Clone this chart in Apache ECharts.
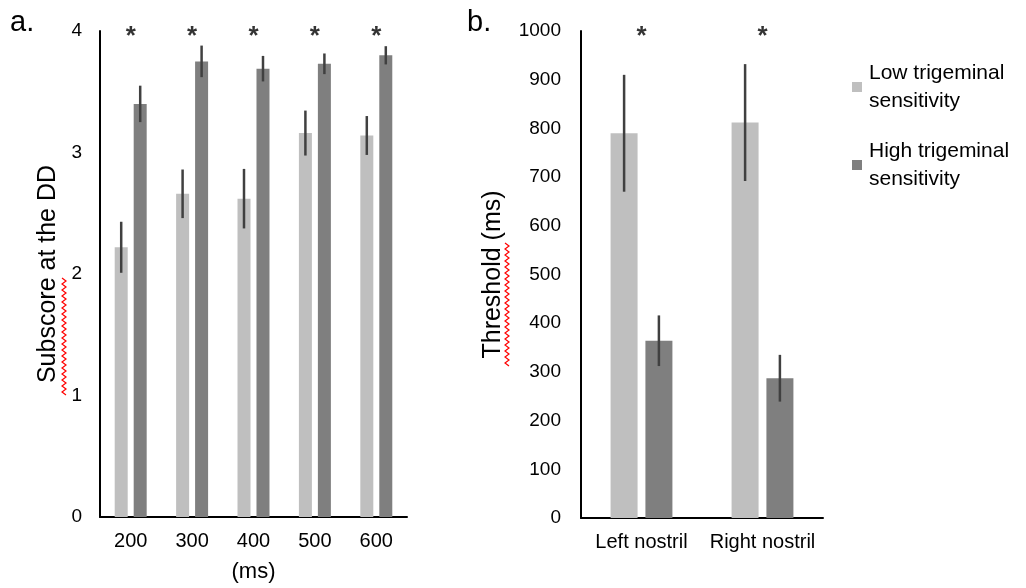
<!DOCTYPE html>
<html>
<head>
<meta charset="utf-8">
<script src="https://cdn.jsdelivr.net/npm/echarts@6/dist/echarts.min.js"></script>
<style>
  html, body { margin: 0; padding: 0; background: #fff; }
  #chart { width: 1026px; height: 588px; }
</style>
</head>
<body>
<div id="chart"></div>
<script>
// panel a: subscore at the DD by duration
const categoriesA = ['200', '300', '400', '500', '600'];
const lowA = [2.22, 2.66, 2.62, 3.16, 3.14];
const lowErrA = [0.21, 0.2, 0.245, 0.185, 0.16];
const highA = [3.4, 3.75, 3.69, 3.73, 3.8];
const highErrA = [0.15, 0.13, 0.105, 0.085, 0.075];
const starsA = [4, 4, 4, 4, 4];

// panel b: threshold by nostril
const categoriesB = ['Left nostril', 'Right nostril'];
const lowB = [790, 812];
const lowErrB = [120, 120];
const highB = [364, 287];
const highErrB = [52, 48];
const starsB = [1000, 1000];

const ticksA = [0, 1, 2, 3, 4];
const ticksB = [0, 100, 200, 300, 400, 500, 600, 700, 800, 900, 1000];

const LOW_NAME = 'Low trigeminal\nsensitivity';
const HIGH_NAME = 'High trigeminal\nsensitivity';

const COLORS = {
  LOW: '#BFBFBF',
  HIGH: '#7F7F7F',
  ERR: '#404040',
  AXIS: '#000000',
  TEXT: '#000000',
  SQUIGGLE: '#FF0000',
};
const FONT = '"Liberation Sans", Arial, Helvetica, sans-serif';

const chart = echarts.init(document.getElementById('chart'), null, { renderer: 'canvas' });

const errorSeries = (gridIdx, means, errs, offset) => ({
  type: 'custom',
  xAxisIndex: gridIdx,
  yAxisIndex: gridIdx,
  z: 10,
  silent: true,
  data: means.map((m, i) => [i, m - errs[i], m + errs[i]]),
  renderItem: (params, api) => {
    const lo = api.coord([api.value(0), api.value(1)]);
    const hi = api.coord([api.value(0), api.value(2)]);
    return {
      type: 'line',
      shape: { x1: lo[0] + offset, y1: lo[1], x2: hi[0] + offset, y2: hi[1] },
      style: { stroke: COLORS.ERR, lineWidth: 2.5 },
    };
  },
});

const starSeries = (gridIdx, values) => ({
  type: 'scatter',
  xAxisIndex: gridIdx,
  yAxisIndex: gridIdx,
  symbolSize: 0,
  clip: false,
  silent: true,
  z: 20,
  data: values.map((v, i) => [i, v]),
  label: {
    show: true,
    formatter: '*',
    position: 'inside',
    offset: [0, 6],
    color: COLORS.TEXT,
    fontSize: 26,
    fontWeight: 'bold',
    fontFamily: FONT,
  },
  emphasis: { disabled: true },
});

// red spell-check squiggle under the axis names
const squiggle = (x, y0, y1) => {
  const pts = [];
  let k = 0;
  for (let y = y0; y <= y1; y += 3) {
    pts.push([x + (k % 2 ? 4 : 0), y]);
    k++;
  }
  return {
    type: 'polyline',
    shape: { points: pts },
    style: { stroke: COLORS.SQUIGGLE, lineWidth: 1.2, fill: null },
    z: 100,
  };
};

const yAxisBase = {
  type: 'value',
  nameLocation: 'middle',
  nameRotate: 90,
  nameTextStyle: { color: COLORS.TEXT, fontSize: 25, fontFamily: FONT },
  axisLine: { show: true, lineStyle: { color: COLORS.AXIS, width: 2 } },
  axisTick: { show: false },
  splitLine: { show: false },
  axisLabel: { color: COLORS.TEXT, fontSize: 19, fontFamily: FONT, formatter: (v) => String(v) },
};

const xAxisBase = {
  type: 'category',
  axisLine: { show: true, lineStyle: { color: COLORS.AXIS, width: 2 } },
  axisTick: { show: false },
  axisLabel: { color: COLORS.TEXT, fontSize: 20, fontFamily: FONT, margin: 14, interval: 0 },
};

const option = {
  backgroundColor: '#ffffff',
  animation: false,
  textStyle: { fontFamily: FONT },
  grid: [
    { left: 100, top: 31, width: 307, height: 487 },
    { left: 581, top: 31, width: 242, height: 487 },
  ],
  legend: {
    orient: 'vertical',
    left: 852,
    top: 45,
    padding: 0,
    itemGap: -6,
    itemWidth: 10,
    itemHeight: 10,
    icon: 'rect',
    data: [LOW_NAME, HIGH_NAME],
    textStyle: {
      color: COLORS.TEXT,
      fontSize: 21,
      fontFamily: FONT,
      lineHeight: 28,
      padding: [28, 0, 0, 2],
    },
  },
  xAxis: [
    { ...xAxisBase, gridIndex: 0, data: categoriesA, name: '(ms)', nameLocation: 'middle', nameGap: 44,
      nameTextStyle: { color: COLORS.TEXT, fontSize: 22, fontFamily: FONT } },
    { ...xAxisBase, gridIndex: 1, data: categoriesB },
  ],
  yAxis: [
    { ...yAxisBase, gridIndex: 0, min: ticksA[0], max: ticksA[ticksA.length - 1], interval: 1,
      name: 'Subscore at the DD', nameGap: 39,
      axisLabel: { ...yAxisBase.axisLabel, margin: 18 } },
    { ...yAxisBase, gridIndex: 1, min: ticksB[0], max: ticksB[ticksB.length - 1], interval: 100,
      name: 'Threshold (ms)', nameGap: 75,
      axisLabel: { ...yAxisBase.axisLabel, margin: 20 } },
  ],
  series: [
    { name: LOW_NAME, type: 'bar', xAxisIndex: 0, yAxisIndex: 0, data: lowA,
      barWidth: 13, barGap: '46%', itemStyle: { color: COLORS.LOW } },
    { name: HIGH_NAME, type: 'bar', xAxisIndex: 0, yAxisIndex: 0, data: highA,
      barWidth: 13, barGap: '46%', itemStyle: { color: COLORS.HIGH } },
    { name: LOW_NAME, type: 'bar', xAxisIndex: 1, yAxisIndex: 1, data: lowB,
      barWidth: 27, barGap: '29%', itemStyle: { color: COLORS.LOW } },
    { name: HIGH_NAME, type: 'bar', xAxisIndex: 1, yAxisIndex: 1, data: highB,
      barWidth: 27, barGap: '29%', itemStyle: { color: COLORS.HIGH } },
    errorSeries(0, lowA, lowErrA, -9.5),
    errorSeries(0, highA, highErrA, 9.5),
    errorSeries(1, lowB, lowErrB, -17.4),
    errorSeries(1, highB, highErrB, 17.4),
    starSeries(0, starsA),
    starSeries(1, starsB),
  ],
  graphic: [
    { type: 'text', left: 10, top: 8, style: { text: 'a.', fontSize: 29, fontFamily: FONT, fill: COLORS.TEXT } },
    { type: 'text', left: 467, top: 8, style: { text: 'b.', fontSize: 29, fontFamily: FONT, fill: COLORS.TEXT } },
    squiggle(62, 278, 395),
    squiggle(505, 243, 367),
  ],
};

chart.setOption(option);
</script>
</body>
</html>
